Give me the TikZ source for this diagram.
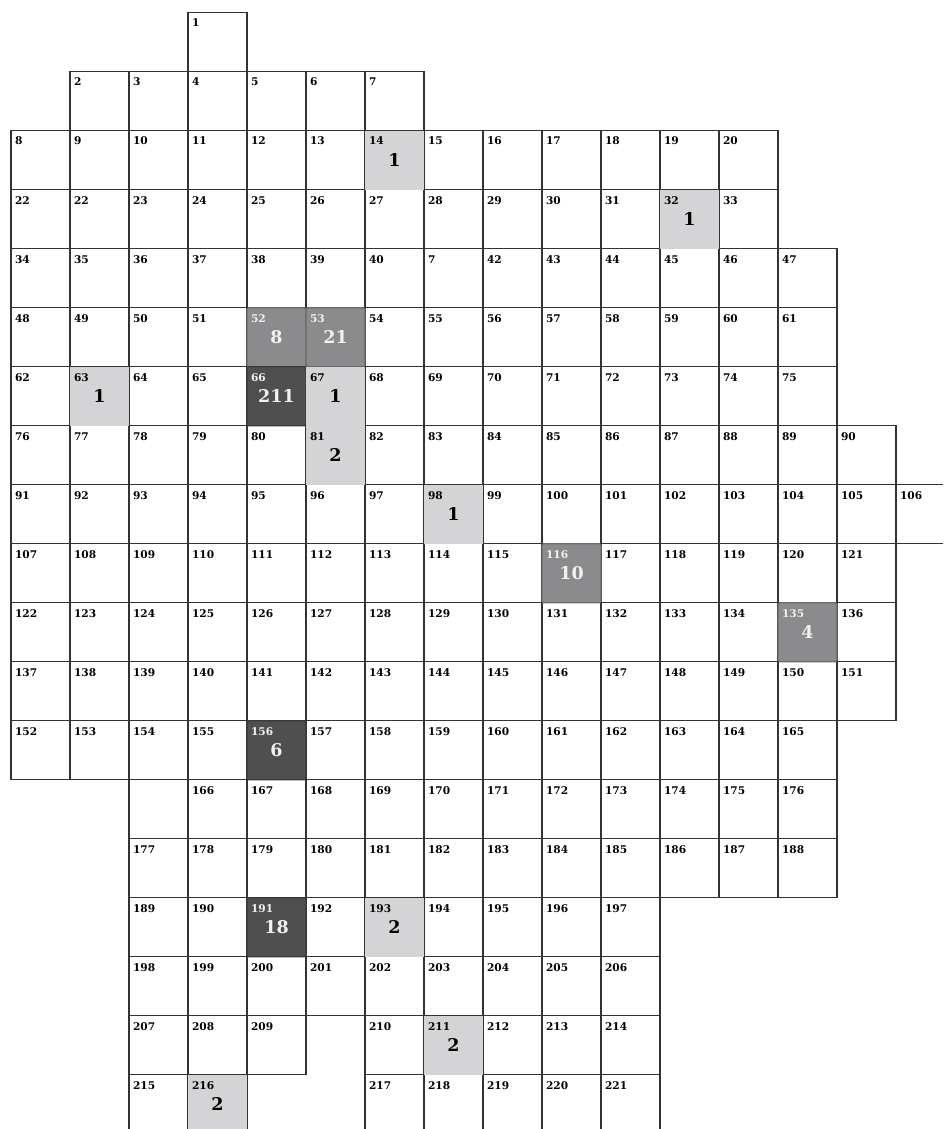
\documentclass[tikz,border=0pt]{standalone}
\usepackage{fontspec}
\setmainfont{Latin Modern Roman}
\newfontfamily\labelfont{DejaVu Serif}
\definecolor{gridline}{HTML}{333333}
\definecolor{lightg}{HTML}{D4D4D6}
\definecolor{midg}{HTML}{8B8B8D}
\definecolor{midgb}{HTML}{6B6B6B}
\definecolor{darkg}{HTML}{4F4F4F}
\definecolor{darkgb}{HTML}{3A3A3A}
\definecolor{offwhite}{HTML}{F2F2F2}
\tikzset{
  cellbox/.style={draw=gridline, line width=1.2pt, minimum width=59pt, minimum height=59pt,
    inner sep=0pt, outer sep=0pt, anchor=north west},
  shadebox/.style={minimum width=59pt, minimum height=59pt, inner sep=0pt, outer sep=0pt,
    anchor=north west, font=\labelfont\bfseries\fontsize{17.5}{19}\selectfont},
  lightcell/.style={shadebox, fill=lightg, text=black},
  midcell/.style={shadebox, fill=midg, draw=midgb, line width=1.2pt, rounded corners=1.5pt, text=offwhite},
  darkcell/.style={shadebox, fill=darkg, draw=darkgb, line width=1.2pt, rounded corners=1.5pt, text=offwhite},
  numlabel/.style={font=\labelfont\bfseries\fontsize{10.6}{12}\selectfont, anchor=base west, inner sep=0pt, outer sep=0pt},
}
\newcommand\gridrow[3]{%
  \foreach \lab [count=\i from 0] in {#3} {
    \pgfmathtruncatemacro\cc{#2+\i}
    \node[cellbox] (c-#1-\cc) at ({11+59*\cc},{-12.7-59*#1}) {};
    \node[numlabel] (l-#1-\cc) at ({15+59*\cc},{-27-59*#1}) {\lab};
  }%
}
\newcommand\shadecell[6]{%
  \node[#3] (s-#1-#2) at ({11+59*#2},{-12.7-59*#1}) {#6};
  \node[numlabel, text=#4] (sl-#1-#2) at ({15+59*#2},{-27-59*#1}) {#5};
}
\begin{document}
\begin{tikzpicture}[x=1pt,y=1pt]
\useasboundingbox (0,0) rectangle (943,-1129);
\clip (0,0) rectangle (943,-1129);
\gridrow{0}{3}{1}
\gridrow{1}{1}{2,...,7}
\gridrow{2}{0}{8,...,20}
\gridrow{3}{0}{22}
\gridrow{3}{1}{22,...,33}
\gridrow{4}{0}{34,...,40}
\gridrow{4}{7}{7}
\gridrow{4}{8}{42,...,47}
\gridrow{5}{0}{48,...,61}
\gridrow{6}{0}{62,...,75}
\gridrow{7}{0}{76,...,90}
\gridrow{8}{0}{91,...,106}
\gridrow{9}{0}{107,...,121}
\gridrow{10}{0}{122,...,136}
\gridrow{11}{0}{137,...,151}
\gridrow{12}{0}{152,...,165}
\node[cellbox] (c-13-2) at ({11+59*2},{-12.7-59*13}) {};
\gridrow{13}{3}{166,...,176}
\gridrow{14}{2}{177,...,188}
\gridrow{15}{2}{189,...,197}
\gridrow{16}{2}{198,...,206}
\gridrow{17}{2}{207,208,209}
\gridrow{17}{6}{210,...,214}
\gridrow{18}{2}{215,216}
\gridrow{18}{6}{217,...,221}
% shaded cells
\shadecell{2}{6}{lightcell}{black}{14}{1}
\shadecell{3}{11}{lightcell}{black}{32}{1}
\shadecell{5}{4}{midcell}{offwhite}{52}{8}
\shadecell{5}{5}{midcell}{offwhite}{53}{21}
\shadecell{6}{1}{lightcell}{black}{63}{1}
\shadecell{6}{4}{darkcell}{offwhite}{66}{211}
\shadecell{6}{5}{lightcell}{black}{67}{1}
\shadecell{7}{5}{lightcell}{black}{81}{2}
\shadecell{8}{7}{lightcell}{black}{98}{1}
\shadecell{9}{9}{midcell}{offwhite}{116}{10}
\shadecell{10}{13}{midcell}{offwhite}{135}{4}
\shadecell{12}{4}{darkcell}{offwhite}{156}{6}
\shadecell{15}{4}{darkcell}{offwhite}{191}{18}
\shadecell{15}{6}{lightcell}{black}{193}{2}
\shadecell{17}{7}{lightcell}{black}{211}{2}
\shadecell{18}{3}{lightcell}{black}{216}{2}
\end{tikzpicture}
\end{document}
